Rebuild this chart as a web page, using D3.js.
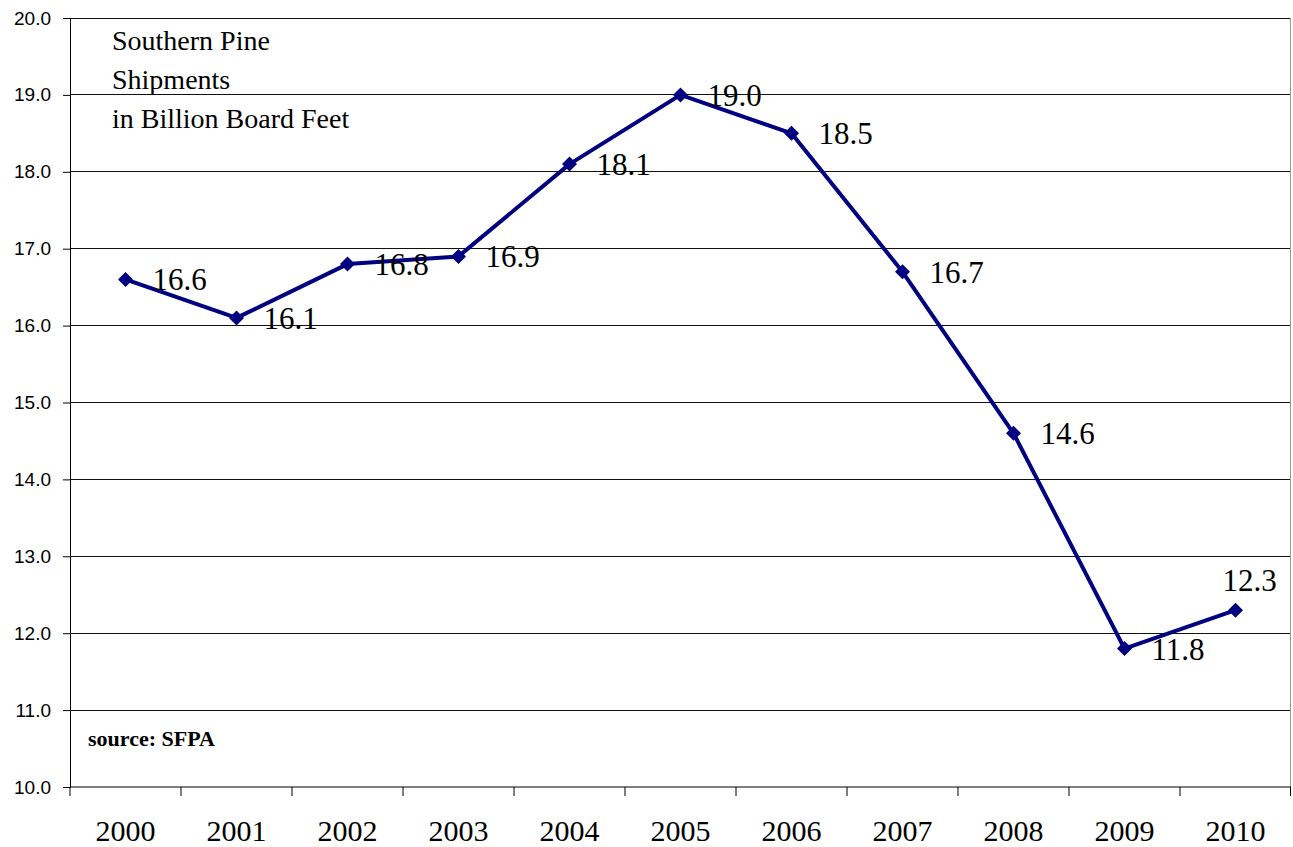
<!DOCTYPE html>
<html>
<head>
<meta charset="utf-8">
<script src="https://cdn.jsdelivr.net/npm/d3@7"></script>
<style>
  body { margin: 0; background: #fff; }
  svg { display: block; }
</style>
</head>
<body>
<svg id="chart" width="1293" height="847"></svg>
<script>
const years = ['2000', '2001', '2002', '2003', '2004', '2005', '2006', '2007', '2008', '2009', '2010'];
const shipments = [16.6, 16.1, 16.8, 16.9, 18.1, 19.0, 18.5, 16.7, 14.6, 11.8, 12.3];
const yTicks = [10, 11, 12, 13, 14, 15, 16, 17, 18, 19, 20];
const titleLines = ['Southern Pine', 'Shipments', 'in Billion Board Feet'];

const SERIF = "'Liberation Serif'";
const SANS = "'Liberation Sans'";

const width = 1293, height = 847;
const margin = {top: 18, right: 2, bottom: 60, left: 70};

const svg = d3.select('#chart');

const x = d3.scaleBand()
    .domain(years)
    .range([margin.left, width - margin.right]);

const y = d3.scaleLinear()
    .domain([10, 20])
    .range([height - margin.bottom, margin.top]);

// gridlines
svg.append('g')
    .selectAll('line')
    .data(yTicks.slice(1))
    .join('line')
    .attr('x1', margin.left)
    .attr('x2', width - margin.right)
    .attr('y1', d => y(d))
    .attr('y2', d => y(d))
    .attr('stroke', '#111')
    .attr('stroke-width', 1)
    .attr('shape-rendering', 'crispEdges');

// right border of the plot area
svg.append('line')
    .attr('x1', width - margin.right - 0.5)
    .attr('x2', width - margin.right - 0.5)
    .attr('y1', margin.top)
    .attr('y2', height - margin.bottom)
    .attr('stroke', '#999');

// y axis
const yAxis = svg.append('g')
    .attr('transform', `translate(${margin.left},0)`)
    .call(d3.axisLeft(y).tickValues(yTicks).tickFormat(d3.format('.1f')).tickSize(7).tickPadding(12));
yAxis.attr('font-family', SANS);
yAxis.select('.domain').attr('stroke', '#000');
yAxis.selectAll('.tick line').attr('stroke', '#000');
yAxis.selectAll('text')
    .attr('font-size', 19)
    .attr('fill', '#000');

// x axis: ticks at band boundaries
const xAxisG = svg.append('g')
    .attr('transform', `translate(0,${height - margin.bottom})`);
xAxisG.append('line')
    .attr('x1', margin.left)
    .attr('x2', width - margin.right)
    .attr('stroke', '#000');
xAxisG.selectAll('.bound')
    .data(years.concat(['end']))
    .join('line')
    .attr('class', 'bound')
    .attr('x1', (d, i) => i < years.length ? x(d) : x.range()[1] - 0.5)
    .attr('x2', (d, i) => i < years.length ? x(d) : x.range()[1] - 0.5)
    .attr('y1', 0)
    .attr('y2', 9)
    .attr('stroke', '#000');
xAxisG.selectAll('.lab')
    .data(years)
    .join('text')
    .attr('class', 'lab')
    .attr('x', d => x(d) + x.bandwidth() / 2)
    .attr('y', 54)
    .attr('text-anchor', 'middle')
    .attr('font-family', SERIF)
    .attr('font-size', 30)
    .text(d => d);

// series
const pts = years.map((yr, i) => ({year: yr, value: shipments[i]}));
const cx = d => x(d.year) + x.bandwidth() / 2;

svg.append('path')
    .datum(pts)
    .attr('fill', 'none')
    .attr('stroke', '#000080')
    .attr('stroke-width', 4)
    .attr('stroke-linejoin', 'round')
    .attr('d', d3.line().x(cx).y(d => y(d.value)));

svg.append('g')
    .selectAll('path')
    .data(pts)
    .join('path')
    .attr('transform', d => `translate(${cx(d)},${y(d.value)})`)
    .attr('d', 'M0,-7.5L7.5,0L0,7.5L-7.5,0Z')
    .attr('fill', '#000080');

// data labels
const last = pts.length - 1;
svg.append('g')
    .selectAll('text')
    .data(pts)
    .join('text')
    .attr('x', (d, i) => i === last ? cx(d) + 14 : cx(d) + 27)
    .attr('y', (d, i) => i === last ? y(d.value) - 19 : y(d.value) + 11)
    .attr('text-anchor', (d, i) => i === last ? 'middle' : 'start')
    .attr('font-family', SERIF)
    .attr('font-size', 31)
    .attr('fill', '#000')
    .text(d => d3.format('.1f')(d.value));

// title block
svg.append('text')
    .attr('font-family', SERIF)
    .attr('font-size', 28)
    .selectAll('tspan')
    .data(titleLines)
    .join('tspan')
    .attr('x', 112)
    .attr('y', (d, i) => 50 + i * 39)
    .text(d => d);

svg.append('text')
    .attr('x', 88)
    .attr('y', 746)
    .attr('font-family', SERIF)
    .attr('font-size', 22)
    .attr('font-weight', 'bold')
    .text('source: SFPA');
</script>
</body>
</html>
